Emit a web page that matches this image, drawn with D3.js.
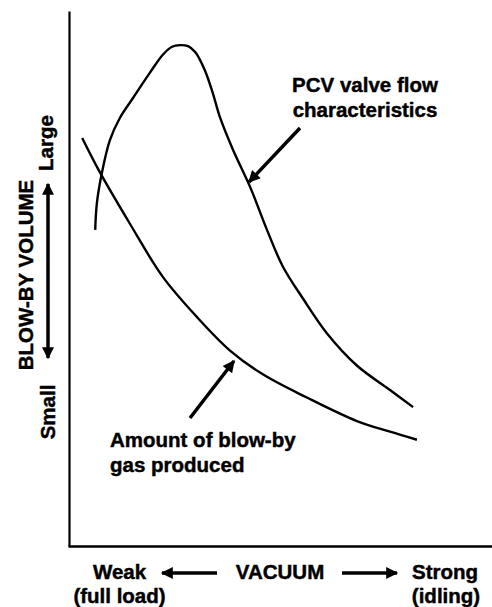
<!DOCTYPE html>
<html>
<head>
<meta charset="utf-8">
<script src="https://cdn.jsdelivr.net/npm/d3@7"></script>
<style>
  body { margin: 0; background: #fff; }
  svg { display: block; }
  text { font-family: "Liberation Sans", Arial, Helvetica, sans-serif; font-weight: bold; fill: #000; stroke: #000; stroke-width: 0.45px; }
</style>
</head>
<body>
<svg id="chart"></svg>
<script>
// vacuum (0 = weak, 100 = strong) vs blow-by volume (0 = small, 100 = large)
var pcvX = [6, 6.4, 7.6, 9.5, 11.9, 15, 19, 22.1, 24.3, 26.2, 28.1, 29.8, 32.1, 34, 35.7, 38.8, 42.9, 46.9, 50.7, 55.5, 61.2, 68.3, 76.2, 81.7]
var pcvY = [59.2, 64.2, 69.9, 76, 80.2, 83.9, 88.6, 92, 93.5, 93.8, 93.6, 92.5, 89.1, 84.8, 80.3, 74.2, 67.2, 59.2, 52.3, 46.3, 39.8, 33.8, 29.2, 26]

var gasX = [2.9, 7.1, 14.3, 22.1, 30.2, 38.1, 46, 56.4, 68.3, 76.2, 82.6]
var gasY = [76.4, 70, 60.3, 50.4, 42.9, 36.6, 32.1, 27.8, 23.4, 21.4, 19.9]

var pcvLabel = ["PCV valve flow", "characteristics"]
var gasLabel = ["Amount of blow-by", "gas produced"]
var xLabels = ["Weak", "VACUUM", "Strong"]
var xSubLabels = ["(full load)", "(idling)"]
var yLabels = ["BLOW-BY VOLUME", "Large", "Small"]

var width = 492
var height = 607

var svg = d3.select("#chart").attr("width", width).attr("height", height)

var xScale = d3.scaleLinear().domain([0, 100]).range([70, 490])
var yScale = d3.scaleLinear().domain([0, 100]).range([546, 12])

// arrowhead
svg.append("defs")
	.append("marker")
	.attr("id", "head")
	.attr("viewBox", "0 0 10 10")
	.attr("refX", 9)
	.attr("refY", 5)
	.attr("markerUnits", "userSpaceOnUse")
	.attr("markerWidth", 17)
	.attr("markerHeight", 12)
	.attr("orient", "auto-start-reverse")
	.append("path")
	.attr("d", "M0,0 L10,5 L0,10 Z")
	.attr("fill", "#000")

// axes without ticks
svg.append("g")
	.attr("transform", "translate(69,0)")
	.call(d3.axisLeft(yScale.copy().range([546, 11])).ticks(0).tickSizeOuter(0))
	.select(".domain").attr("stroke-width", 2.2)

svg.append("g")
	.attr("transform", "translate(0,546)")
	.call(d3.axisBottom(xScale.copy().range([68, 492])).ticks(0).tickSizeOuter(0))
	.select(".domain").attr("stroke-width", 2.4)

var line = d3.line()
	.x(d => xScale(d[0]))
	.y(d => yScale(d[1]))
	.curve(d3.curveCatmullRom.alpha(0.5))

svg.append("path")
	.datum(d3.zip(pcvX, pcvY))
	.attr("d", line)
	.attr("fill", "none")
	.attr("stroke", "#000")
	.attr("stroke-width", 2.4)

svg.append("path")
	.datum(d3.zip(gasX, gasY))
	.attr("d", line)
	.attr("fill", "none")
	.attr("stroke", "#000")
	.attr("stroke-width", 2.4)

function arrow(x1, y1, x2, y2, both) {
	var a = svg.append("line")
		.attr("x1", x1).attr("y1", y1)
		.attr("x2", x2).attr("y2", y2)
		.attr("stroke", "#000")
		.attr("stroke-width", 3.5)
		.attr("marker-end", "url(#head)")
	if (both) a.attr("marker-start", "url(#head)")
}

// pointer arrows
arrow(300, 128, 249, 182)
arrow(190, 418, 234, 361)

// y-axis arrows
arrow(48, 358, 48, 184, true)

// x-axis arrows
arrow(217, 573, 162, 573)
arrow(342, 573, 397, 573)

// curve labels
svg.append("g")
	.selectAll("text")
	.data(pcvLabel)
	.enter()
	.append("text")
	.attr("x", 365)
	.attr("y", (d, i) => 92 + i * 25)
	.attr("text-anchor", "middle")
	.attr("font-size", 20.5)
	.text(d => d)

svg.append("g")
	.selectAll("text")
	.data(gasLabel)
	.enter()
	.append("text")
	.attr("x", 110)
	.attr("y", (d, i) => 447 + i * 25)
	.attr("font-size", 20.5)
	.text(d => d)

// x labels
var xPos = [119.5, 280, 445]
svg.append("g")
	.selectAll("text")
	.data(xLabels)
	.enter()
	.append("text")
	.attr("x", (d, i) => xPos[i])
	.attr("y", 579)
	.attr("text-anchor", "middle")
	.attr("font-size", 20.5)
	.text(d => d)

var subPos = [119.5, 446]
svg.append("g")
	.selectAll("text")
	.data(xSubLabels)
	.enter()
	.append("text")
	.attr("x", (d, i) => subPos[i])
	.attr("y", 603)
	.attr("text-anchor", "middle")
	.attr("font-size", 20.5)
	.text(d => d)

// y labels (rotated)
var yPos = [[33, 275], [53, 143], [55, 412]]
svg.append("g")
	.selectAll("text")
	.data(yLabels)
	.enter()
	.append("text")
	.attr("transform", (d, i) => "translate(" + yPos[i][0] + "," + yPos[i][1] + ") rotate(-90)")
	.attr("text-anchor", "middle")
	.attr("font-size", 20.5)
	.text(d => d)
</script>
</body>
</html>
